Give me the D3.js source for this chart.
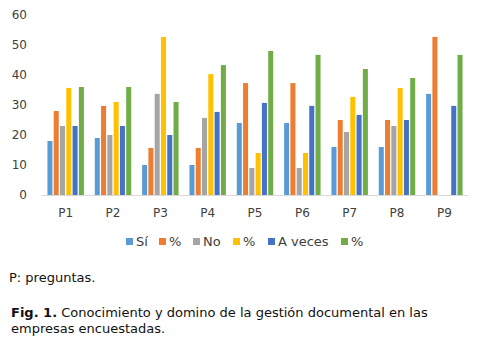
<!DOCTYPE html>
<html><head><meta charset="utf-8">
<script src="https://cdn.jsdelivr.net/npm/d3@7"></script>
<style>body{margin:0;background:#fff;} svg{display:block;font-family:"DejaVu Sans",Verdana,sans-serif;}</style>
</head><body><svg id="c" width="477" height="359"></svg>
<script>
const categories = ["P1","P2","P3","P4","P5","P6","P7","P8","P9"];
const seriesNames = ["Sí","%","No","%","A veces","%"];
const seriesColors = ["#5B9BD5","#ED7D31","#A5A5A5","#FFC000","#4472C4","#70AD47"];
const si      = [18, 19, 10, 10, 24, 24, 16, 16, 33.7];
const siPct   = [28, 29.7, 15.7, 15.7, 37.3, 37.3, 25, 25, 52.7];
const no      = [23, 20, 33.7, 25.7, 9, 9, 21, 23, null];
const noPct   = [35.7, 31, 52.7, 40.3, 14, 14, 32.7, 35.7, null];
const aveces  = [23, 23, 20, 27.7, 30.7, 29.7, 26.7, 25, 29.7];
const avPct   = [36, 36, 31, 43.3, 48, 46.7, 42, 39, 46.7];
const yTicks = [0,10,20,30,40,50,60];
const allSeries = [si, siPct, no, noPct, aveces, avPct];

(function(){
const svg = d3.select("#c");
const mL = 42, mR = 468, mT = 15, mB = 195;
const x0 = d3.scaleBand().domain(categories).range([mL,mR]).paddingInner(0.23).paddingOuter(0.115);
const x1 = d3.scaleBand().domain(d3.range(6)).range([0,x0.bandwidth()]).paddingInner(0.2);
const y = d3.scaleLinear().domain([0,60]).range([mB,mT]);

svg.append("g").selectAll("text").data(yTicks).join("text")
  .attr("x", 27).attr("y", d=>y(d)).attr("dy","0.35em").attr("text-anchor","end")
  .attr("font-size",12).attr("fill","#404040").text(d=>d);

const g = svg.append("g");
categories.forEach((c,i)=>{
  allSeries.forEach((s,j)=>{
    const v = s[i];
    if (v==null) return;
    g.append("rect").attr("x", x0(c)+x1(j)).attr("width", x1.bandwidth())
      .attr("y", y(v)).attr("height", y(0)-y(v)).attr("fill", seriesColors[j]);
  });
});

svg.append("line").attr("x1",mL).attr("x2",mR).attr("y1",mB+0.5).attr("y2",mB+0.5)
  .attr("stroke","#d9d9d9").attr("stroke-width",1);

svg.append("g").selectAll("text").data(categories).join("text")
  .attr("x", d=>x0(d)+x0.bandwidth()/2).attr("y", 213).attr("dy","0.35em").attr("text-anchor","middle")
  .attr("font-size",12).attr("fill","#404040").text(d=>d);

const legX = [126,159,193,233,268,341];
const lg = svg.append("g");
seriesNames.forEach((n,j)=>{
  lg.append("rect").attr("x",legX[j]).attr("y",238).attr("width",7).attr("height",7).attr("fill",seriesColors[j]);
  lg.append("text").attr("x",legX[j]+10).attr("y",245.5).attr("font-size",13)
    .attr("fill","#404040").text(n);
});

svg.append("text").attr("x",9).attr("y",277).attr("dy","0.35em").attr("font-size",13).attr("fill","#111").text("P: preguntas.");
const cap = svg.append("text").attr("x",11).attr("y",312).attr("dy","0.35em").attr("font-size",13).attr("fill","#111");
cap.append("tspan").attr("font-weight","bold").text("Fig. 1.");
cap.append("tspan").text(" Conocimiento y domino de la gestión documental en las");
svg.append("text").attr("x",11).attr("y",328).attr("dy","0.35em").attr("font-size",13).attr("fill","#111").text("empresas encuestadas.");
})();
</script></body></html>
